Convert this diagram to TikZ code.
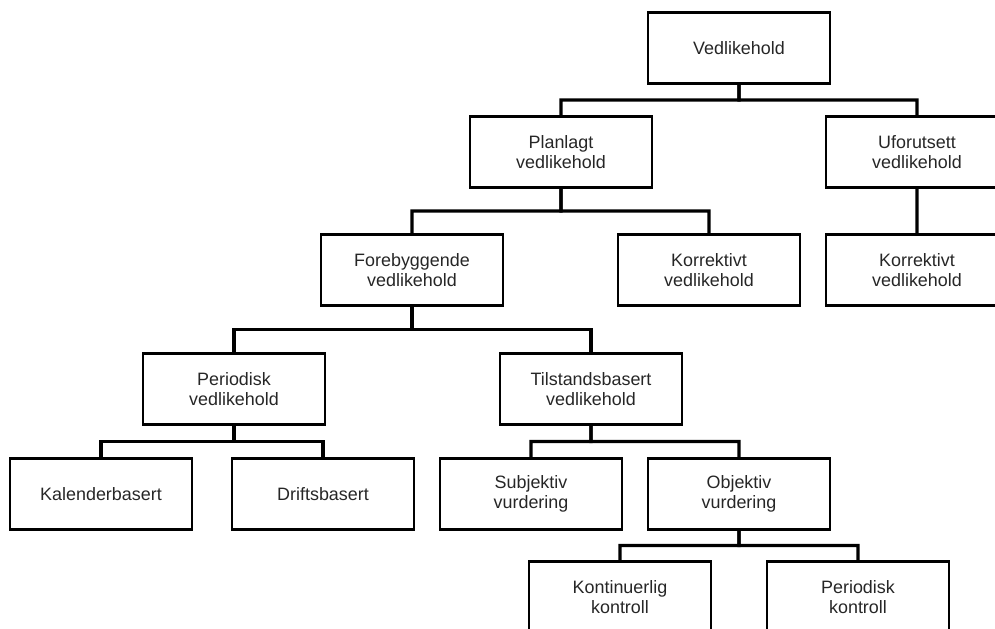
\documentclass[tikz,border=0pt]{standalone}
\usepackage{fontspec}
\setmainfont{Liberation Sans}
\usetikzlibrary{calc}
\tikzstyle{block} = [rectangle, minimum width=3.5cm, minimum height=1.43cm, text centered, text width=3.4cm, draw=black, line width=1.5pt, text=black!85, font=\fontsize{10.2pt}{11.4pt}\selectfont]
\tikzstyle{link} = [line width=1.8pt]

\begin{document}
\begin{tikzpicture}[x=0.02cm, y=-0.02cm]
\useasboundingbox (0,0) rectangle (995,629);

%% NODES

\node (ved) [block] at (739,48) {Vedlikehold};
\node (plan) [block] at (561,152) {Planlagt\\vedlikehold};
\node (ufor) [block] at (917,152) {Uforutsett\\vedlikehold};
\node (fore) [block] at (412,270) {Forebyggende\\vedlikehold};
\node (korr1) [block] at (709,270) {Korrektivt\\vedlikehold};
\node (korr2) [block] at (917,270) {Korrektivt\\vedlikehold};
\node (peri) [block] at (234,389) {Periodisk\\vedlikehold};
\node (tils) [block] at (591,389) {Tilstandsbasert\\vedlikehold};
\node (kal) [block] at (101,494) {Kalenderbasert};
\node (drift) [block] at (323,494) {Driftsbasert};
\node (subj) [block] at (531,494) {Subjektiv\\vurdering};
\node (obj) [block] at (739,494) {Objektiv\\vurdering};
\node (kont) [block] at (620,597) {Kontinuerlig\\kontroll};
\node (perk) [block] at (858,597) {Periodisk\\kontroll};

%% LINES

\foreach \p/\c in {ved/plan, ved/ufor, plan/fore, plan/korr1, ufor/korr2, fore/peri, fore/tils, peri/kal, peri/drift, tils/subj, tils/obj, obj/kont, obj/perk}
  \draw [link] (\p.south) -- ($(\p.south)!0.5!(\p.south |- \c.north)$) -| (\c.north);

\end{tikzpicture}
\end{document}
